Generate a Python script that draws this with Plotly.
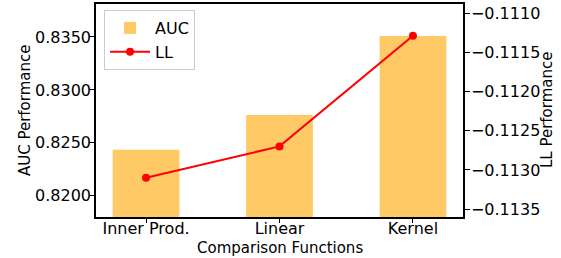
import plotly.graph_objects as go

categories = ["Inner Prod.", "Linear", "Kernel"]
auc_values = [0.82434, 0.82764, 0.83509]
ll_values = [-0.11310, -0.11270, -0.11129]
auc_ticks = [0.8200, 0.8250, 0.8300, 0.8350]
ll_ticks = [-0.1135, -0.1130, -0.1125, -0.1120, -0.1115, -0.1110]

fig = go.Figure()
fig.add_trace(go.Bar(x=[0, 1, 2], y=auc_values, width=0.5, name="AUC",
                     marker=dict(color="#FFC966", line=dict(width=0)), yaxis="y"))
fig.add_trace(go.Scatter(x=[0, 1, 2], y=ll_values, name="LL", mode="lines+markers",
                         line=dict(color="#FF0000", width=2),
                         marker=dict(color="#FF0000", size=8), yaxis="y2"))

fig.update_layout(
    width=561, height=258,
    margin=dict(l=96, r=98, t=4, b=41, autoexpand=False),
    paper_bgcolor="white", plot_bgcolor="white",
    font=dict(family="DejaVu Sans", size=16, color="black"),
    showlegend=True,
    legend=dict(x=0.022, y=0.972, xanchor="left", yanchor="top",
                bgcolor="rgba(255,255,255,0.8)", bordercolor="#cccccc", borderwidth=1,
                font=dict(family="DejaVu Sans", size=16), itemwidth=40),
    xaxis=dict(range=[-0.375, 2.375], tickvals=[0, 1, 2], ticktext=categories,
               showgrid=False, zeroline=False, showline=True, linecolor="black",
               linewidth=1.5, mirror=True, ticks="outside", ticklen=4, tickcolor="black",
               ticklabelstandoff=-8, automargin=False),
    yaxis=dict(range=[0.8180, 0.83811], tickvals=auc_ticks, tickformat=".4f",
               showgrid=False, zeroline=False, showline=True, linecolor="black",
               linewidth=1.5, ticks="outside", ticklen=5, tickcolor="black",
               ticklabelstandoff=-5, automargin=False),
    yaxis2=dict(range=[-0.11360, -0.110885], tickvals=ll_ticks, tickformat=".4f",
                overlaying="y", side="right",
                showgrid=False, zeroline=False, showline=True, linecolor="black",
                linewidth=1.5, ticks="outside", ticklen=5, tickcolor="black",
                ticklabelstandoff=-2, automargin=False),
    annotations=[
        dict(text="Comparison Functions", xref="paper", yref="paper", x=0.501, y=0,
             xanchor="center", yanchor="middle", yshift=-31, showarrow=False,
             font=dict(size=15)),
        dict(text="AUC Performance", xref="paper", yref="paper", x=0, y=0.502,
             xanchor="center", yanchor="middle", xshift=-71, textangle=-90,
             showarrow=False, font=dict(size=15)),
        dict(text="LL Performance", xref="paper", yref="paper", x=1, y=0.502,
             xanchor="center", yanchor="middle", xshift=84, textangle=-90,
             showarrow=False, font=dict(size=15)),
    ],
)
fig.write_html("out.html", config={"displayModeBar": False},
               post_script="document.body.style.margin='0';")
